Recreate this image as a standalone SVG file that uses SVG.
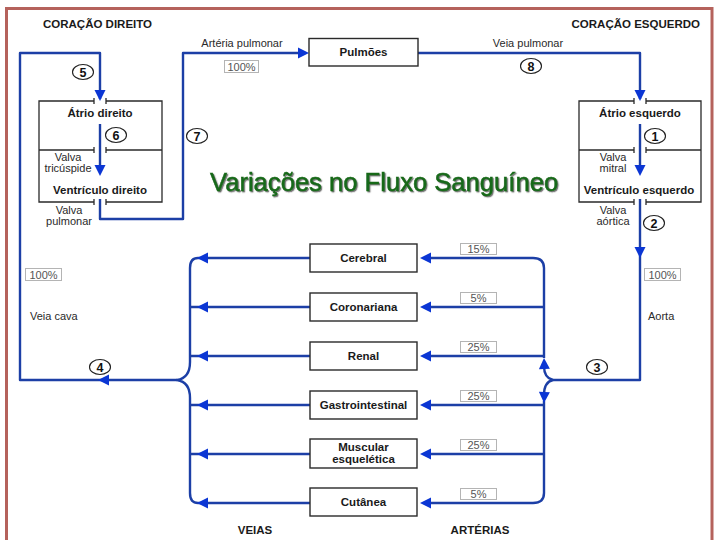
<svg xmlns="http://www.w3.org/2000/svg" width="720" height="540" viewBox="0 0 720 540">
<defs>
<style>
.ln{fill:none;stroke:#1c3fa6;stroke-width:2.4;stroke-linejoin:round}
.ah{fill:#0b36d4}
.box{fill:#fff;stroke:#2a2a2a;stroke-width:1.4}
.hb{fill:none;stroke:#2a2a2a;stroke-width:1.3}
.b{font-family:"Liberation Sans",Arial,sans-serif;font-weight:bold;font-size:11.5px;fill:#1a1a1a}
.r{font-family:"Liberation Sans",Arial,sans-serif;font-size:11px;fill:#2a2a2a}
.pc{fill:#fff;stroke:#b4b4b4;stroke-width:1}
.pt{font-family:"Liberation Sans",Arial,sans-serif;font-size:11px;fill:#555}
.nc{fill:#fff;stroke:#222;stroke-width:1.1}
.nt{font-family:"Liberation Sans",Arial,sans-serif;font-weight:bold;font-size:12.5px;fill:#111}
.c{text-anchor:middle}
</style>
<path id="ah" d="M0,0 L-11,-5.5 L-11,5.5 Z"/>
<filter id="sh" x="-5%" y="-20%" width="110%" height="150%">
<feDropShadow dx="1.2" dy="1.2" stdDeviation="0.6" flood-color="#222" flood-opacity="0.65"/>
</filter>
</defs>
<rect width="720" height="540" fill="#fff"/>
<rect x="6.5" y="8.5" width="705.5" height="580" fill="none" stroke="#b5625c" stroke-width="3"/>

<text class="b" x="43" y="28">CORAÇÃO DIREITO</text>
<text class="b" x="700" y="28" text-anchor="end">CORAÇÃO ESQUERDO</text>

<g id="connectors">
<path class="ln" d="M177,380 L20,380 L20,53 L100,53 L100,99"/>
<path class="ln" d="M100,124 L100,172"/>
<path class="ln" d="M100,199 L100,219 L183,219 L183,53 L305,53"/>
<path class="ln" d="M418,53 L640,53 L640,99"/>
<path class="ln" d="M640,124 L640,172"/>
<path class="ln" d="M640,199 L640,380 L553,380"/>
<path class="ln" d="M553,380 Q544,378 544,366"/>
<path class="ln" d="M553,380 Q544,382 544,395"/>
<path class="ln" d="M424,258 L533,258 Q544,258 544,268 L544,358 M544,401 L544,493 Q544,503 533,503 L424,503"/>
<path class="ln" d="M544,307 H424 M544,356 H424 M544,405 H424 M544,454 H424"/>
<path class="ln" d="M310,258 H198 Q190,258 190,268 V362 Q190,378 177,380 Q190,382 190,398 V493 Q190,503 198,503 H310"/>
<path class="ln" d="M310,307 H190 M310,356 H190 M310,405 H190 M310,454 H190"/>
<g class="ah">
<use href="#ah" transform="translate(100,101) rotate(90)"/>
<use href="#ah" transform="translate(100,176) rotate(90)"/>
<use href="#ah" transform="translate(309,53)"/>
<use href="#ah" transform="translate(640,101) rotate(90)"/>
<use href="#ah" transform="translate(640,176) rotate(90)"/>
<use href="#ah" transform="translate(640,258) rotate(90)"/>
<use href="#ah" transform="translate(98,380) rotate(180)"/>
<use href="#ah" transform="translate(544,358) rotate(-92)"/>
<use href="#ah" transform="translate(544,403) rotate(92)"/>
<use href="#ah" transform="translate(420,258) rotate(180)"/>
<use href="#ah" transform="translate(420,307) rotate(180)"/>
<use href="#ah" transform="translate(420,356) rotate(180)"/>
<use href="#ah" transform="translate(420,405) rotate(180)"/>
<use href="#ah" transform="translate(420,454) rotate(180)"/>
<use href="#ah" transform="translate(420,503) rotate(180)"/>
<use href="#ah" transform="translate(197,258) rotate(180)"/>
<use href="#ah" transform="translate(197,307) rotate(180)"/>
<use href="#ah" transform="translate(197,356) rotate(180)"/>
<use href="#ah" transform="translate(197,405) rotate(180)"/>
<use href="#ah" transform="translate(197,454) rotate(180)"/>
<use href="#ah" transform="translate(197,503) rotate(180)"/>
</g>
</g>

<g id="coracao-direito">
<path class="hb" d="M94,101 H39 V202 H94 M106,101 H162 V202 H106 M39,150 H94 M106,150 H162 M94,98 V104 M106,98 V104 M94,147 V153 M106,147 V153 M94,199 V205 M106,199 V205"/>
<text class="b c" x="100" y="117">Átrio direito</text>
<text class="b c" x="100" y="194">Ventrículo direito</text>
<text class="r c" x="68" y="161">Valva</text>
<text class="r c" x="68" y="172">tricúspide</text>
<text class="r c" x="69" y="214">Valva</text>
<text class="r c" x="69" y="225">pulmonar</text>
</g>

<g id="coracao-esquerdo">
<path class="hb" d="M634,101 H579 V202 H634 M646,101 H701 V202 H646 M579,150 H634 M646,150 H701 M634,98 V104 M646,98 V104 M634,147 V153 M646,147 V153 M634,199 V205 M646,199 V205"/>
<text class="b c" x="640" y="117">Átrio esquerdo</text>
<text class="b c" x="639" y="194">Ventrículo esquerdo</text>
<text class="r c" x="613" y="161">Valva</text>
<text class="r c" x="613" y="172">mitral</text>
<text class="r c" x="613" y="214">Valva</text>
<text class="r c" x="613" y="225">aórtica</text>
</g>

<g id="pulmoes">
<rect class="box" x="309" y="38.5" width="109" height="27.5"/>
<text class="b c" x="363.5" y="56">Pulmões</text>
</g>

<g id="labels">
<text class="r c" x="242" y="47">Artéria pulmonar</text>
<rect class="pc" x="224.5" y="60.5" width="34" height="12"/>
<text class="pt c" x="241.5" y="70.5">100%</text>
<text class="r c" x="528" y="47">Veia pulmonar</text>
<rect class="pc" x="25.5" y="268.5" width="36" height="12"/>
<text class="pt c" x="43.5" y="278.5">100%</text>
<text class="r" x="30" y="320">Veia cava</text>
<rect class="pc" x="644.5" y="268.5" width="36" height="12"/>
<text class="pt c" x="662.5" y="278.5">100%</text>
<text class="r" x="648" y="320">Aorta</text>
<text class="b c" x="255" y="534">VEIAS</text>
<text class="b c" x="480" y="534">ARTÉRIAS</text>
</g>

<g id="numeros">
<ellipse class="nc" cx="83" cy="72" rx="10.5" ry="7.5"/><text class="nt c" x="83" y="76.5">5</text>
<ellipse class="nc" cx="116" cy="135" rx="10.5" ry="7.5"/><text class="nt c" x="116" y="139.5">6</text>
<ellipse class="nc" cx="197" cy="136" rx="10.5" ry="7.5"/><text class="nt c" x="197" y="140.5">7</text>
<ellipse class="nc" cx="531" cy="66" rx="10.5" ry="7.5"/><text class="nt c" x="531" y="70.5">8</text>
<ellipse class="nc" cx="655" cy="136" rx="10.5" ry="7.5"/><text class="nt c" x="655" y="140.5">1</text>
<ellipse class="nc" cx="654" cy="223" rx="10.5" ry="7.5"/><text class="nt c" x="654" y="227.5">2</text>
<ellipse class="nc" cx="597" cy="367" rx="10.5" ry="7.5"/><text class="nt c" x="597" y="371.5">3</text>
<ellipse class="nc" cx="100" cy="367" rx="10.5" ry="7.5"/><text class="nt c" x="100" y="371.5">4</text>
</g>

<g id="cerebral">
<rect class="box" x="310" y="244" width="107" height="28"/>
<text class="b c" x="363.5" y="262">Cerebral</text>
<rect class="pc" x="460.5" y="243.5" width="36" height="11"/>
<text class="pt c" x="478.5" y="253">15%</text>
</g>
<g id="coronariana">
<rect class="box" x="310" y="293" width="107" height="28"/>
<text class="b c" x="363.5" y="311">Coronariana</text>
<rect class="pc" x="460.5" y="292.5" width="36" height="11"/>
<text class="pt c" x="478.5" y="302">5%</text>
</g>
<g id="renal">
<rect class="box" x="310" y="342" width="107" height="28"/>
<text class="b c" x="363.5" y="360">Renal</text>
<rect class="pc" x="460.5" y="341.5" width="36" height="11"/>
<text class="pt c" x="478.5" y="351">25%</text>
</g>
<g id="gastrointestinal">
<rect class="box" x="310" y="391" width="107" height="28"/>
<text class="b c" x="363.5" y="409">Gastrointestinal</text>
<rect class="pc" x="460.5" y="390.5" width="36" height="11"/>
<text class="pt c" x="478.5" y="400">25%</text>
</g>
<g id="muscular">
<rect class="box" x="310" y="439" width="107" height="29"/>
<text class="b c" x="363.5" y="451">Muscular</text>
<text class="b c" x="363.5" y="463">esquelética</text>
<rect class="pc" x="460.5" y="439.5" width="36" height="11"/>
<text class="pt c" x="478.5" y="449">25%</text>
</g>
<g id="cutanea">
<rect class="box" x="310" y="488" width="107" height="28"/>
<text class="b c" x="363.5" y="506">Cutânea</text>
<rect class="pc" x="460.5" y="488.5" width="36" height="11"/>
<text class="pt c" x="478.5" y="498">5%</text>
</g>

<text x="210" y="191" font-family="Liberation Sans, Arial, sans-serif" font-size="25.6" fill="#18691a" stroke="#18691a" stroke-width="0.5" filter="url(#sh)">Variações no Fluxo Sanguíneo</text>
</svg>
